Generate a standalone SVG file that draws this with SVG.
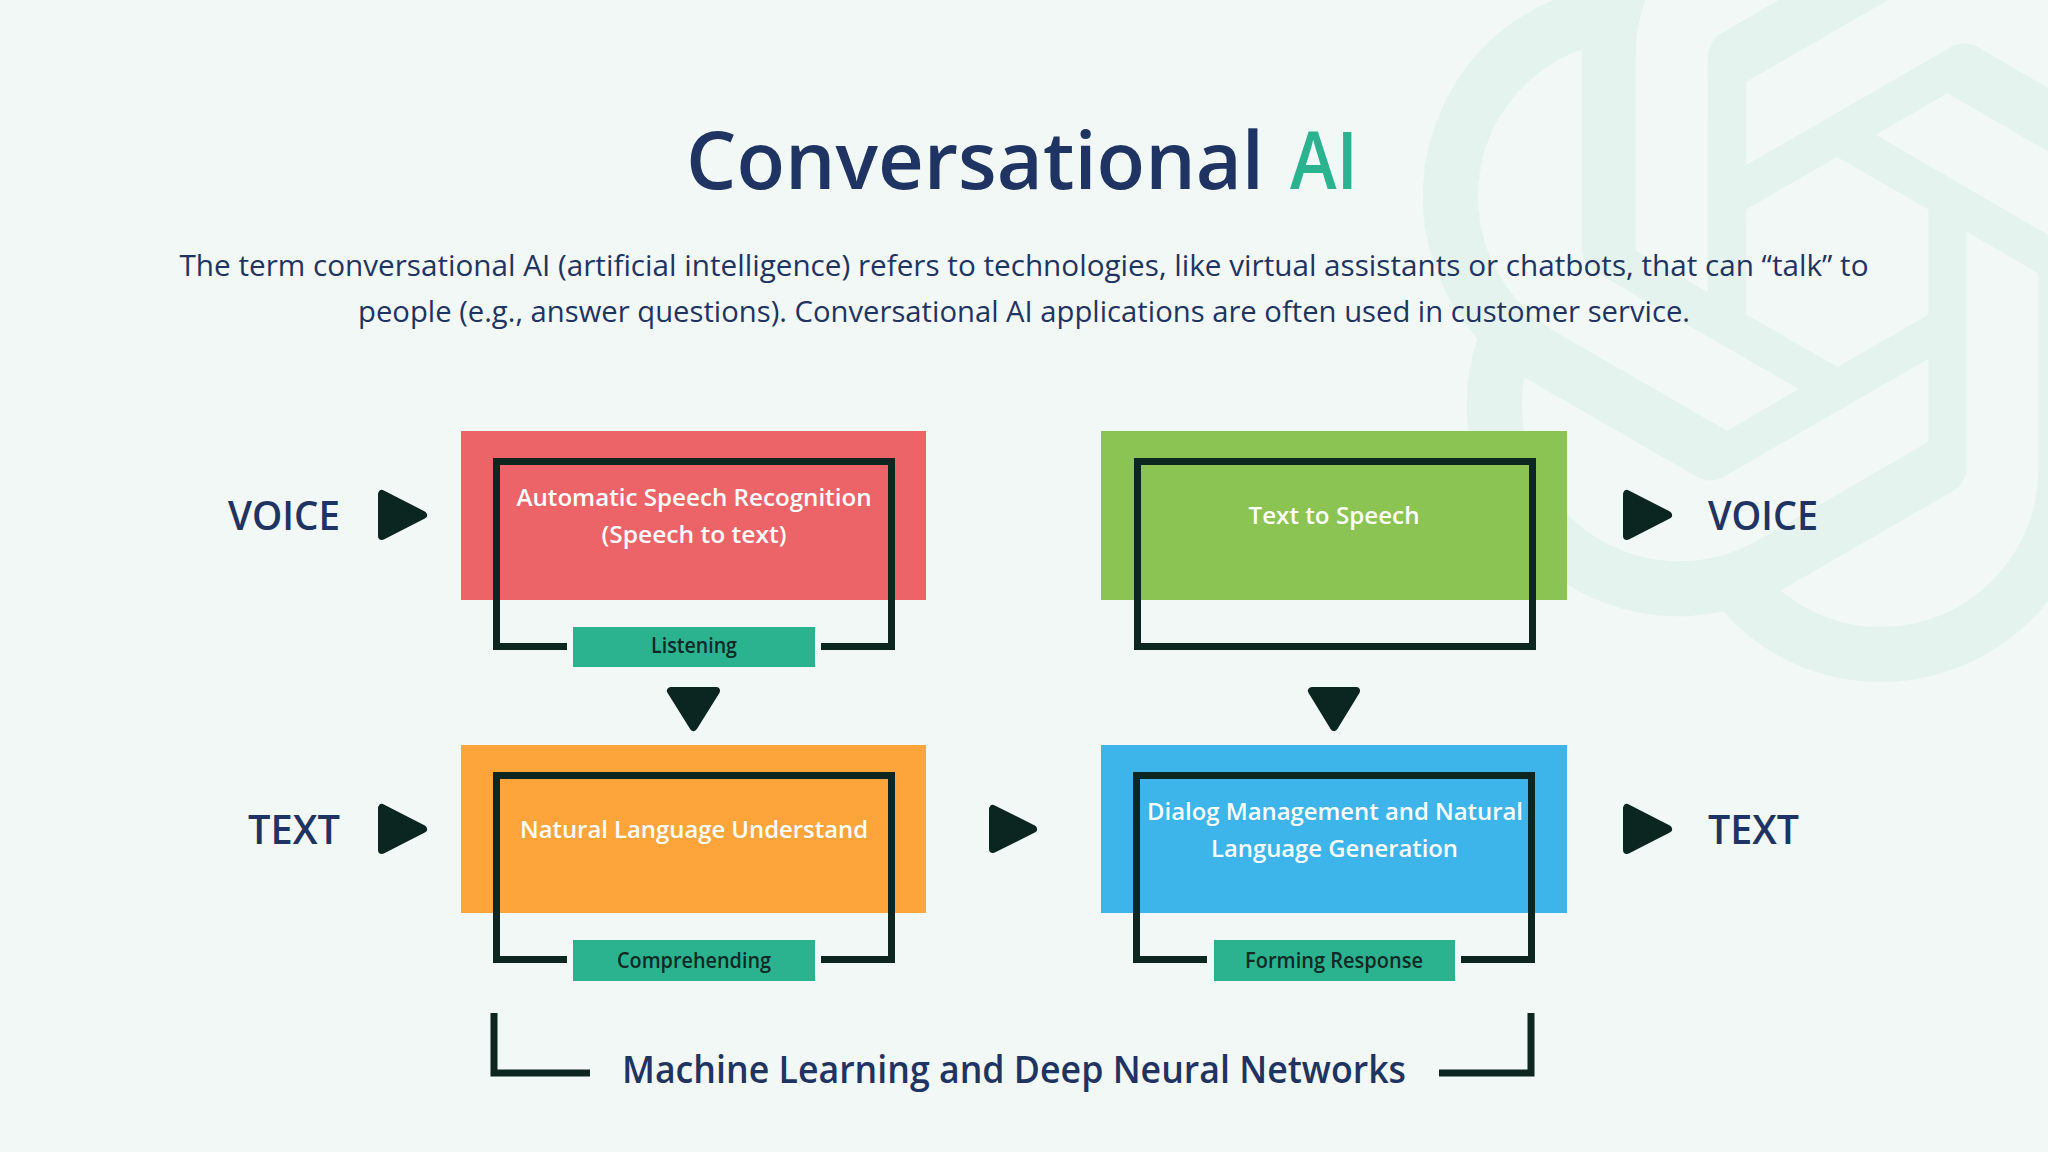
<svg xmlns="http://www.w3.org/2000/svg" width="2048" height="1152" viewBox="0 0 2048 1152">
  <style>
    .t { font-family: "Open Sans", "Noto Sans", "Liberation Sans", sans-serif; }
    .navy { fill: #1f3462; }
    .boxtxt { font-size: 24px; font-weight: 600; fill: #ffffff; text-anchor: middle; }
    .lbl { font-size: 21px; font-weight: 600; fill: #0f2a24; text-anchor: middle; }
    .io { font-size: 39px; font-weight: 600; fill: #1f3462; }
    .frame { fill: none; stroke: #0d2620; stroke-width: 7; stroke-linejoin: miter; }
    .tri { fill: #0b2620; stroke: #0b2620; stroke-width: 8; stroke-linejoin: round; }
    .tag { fill: #2bb38f; }
  </style>

  <rect x="0" y="0" width="2048" height="1152" fill="#f1f8f6"/>

  <!-- faint watermark logo -->
  <g id="watermark" transform="translate(1837,262) scale(35) translate(-12,-12)">
    <path fill="#e4f3ee" d="M22.2819 9.8211a5.9847 5.9847 0 0 0-.5157-4.9108 6.0462 6.0462 0 0 0-6.5098-2.9A6.0651 6.0651 0 0 0 4.9807 4.1818a5.9847 5.9847 0 0 0-3.9977 2.9 6.0462 6.0462 0 0 0 .7427 7.0966 5.98 5.98 0 0 0 .511 4.9107 6.051 6.051 0 0 0 6.5146 2.9001A5.9847 5.9847 0 0 0 13.2599 24a6.0557 6.0557 0 0 0 5.7718-4.2058 5.9894 5.9894 0 0 0 3.9977-2.9001 6.0557 6.0557 0 0 0-.7475-7.0729zm-9.022 12.6081a4.4755 4.4755 0 0 1-2.8764-1.0408l.1419-.0804 4.7783-2.7582a.7948.7948 0 0 0 .3927-.6813v-6.7369l2.02 1.1686a.071.071 0 0 1 .038.052v5.5826a4.504 4.504 0 0 1-4.4945 4.4944zm-9.6607-4.1254a4.4708 4.4708 0 0 1-.5346-3.0137l.142.0852 4.783 2.7582a.7712.7712 0 0 0 .7806 0l5.8428-3.3685v2.3324a.0804.0804 0 0 1-.0332.0615L9.74 19.9502a4.4992 4.4992 0 0 1-6.1408-1.6464zM2.3408 7.8956a4.485 4.485 0 0 1 2.3655-1.9728V11.6a.7664.7664 0 0 0 .3879.6765l5.8144 3.3543-2.0201 1.1685a.0757.0757 0 0 1-.071 0l-4.8303-2.7865A4.504 4.504 0 0 1 2.3408 7.872zm16.5963 3.8558L13.1038 8.364 15.1192 7.2a.0757.0757 0 0 1 .071 0l4.8303 2.7913a4.4944 4.4944 0 0 1-.6765 8.1042v-5.6772a.79.79 0 0 0-.407-.667zm2.0107-3.0231l-.142-.0852-4.7735-2.7818a.7759.7759 0 0 0-.7854 0L9.409 9.2297V6.8974a.0662.0662 0 0 1 .0284-.0615l4.8303-2.7866a4.4992 4.4992 0 0 1 6.6802 4.66zM8.3065 12.863l-2.02-1.1638a.0804.0804 0 0 1-.038-.0567V6.0742a4.4992 4.4992 0 0 1 7.3757-3.4537l-.142.0805L8.704 5.459a.7948.7948 0 0 0-.3927.6813zm1.0976-2.3654l2.602-1.4998 2.6069 1.4998v2.9994l-2.5974 1.4997-2.6067-1.4997Z"/>
  </g>

  <!-- title -->
  <g id="title" class="t" font-size="79" font-weight="600">
    <text x="686" y="189" class="navy" textLength="578" lengthAdjust="spacingAndGlyphs">Conversational</text>
    <text x="1290" y="189" fill="#2bb38f" textLength="68" lengthAdjust="spacingAndGlyphs">AI</text>
  </g>
  <g id="description" class="t" font-size="29" fill="#1f3462" text-anchor="middle">
    <text x="1024" y="276" textLength="1689" lengthAdjust="spacingAndGlyphs">The term conversational AI (artificial intelligence) refers to technologies, like virtual assistants or chatbots, that can “talk” to</text>
    <text x="1024" y="322" textLength="1332" lengthAdjust="spacingAndGlyphs">people (e.g., answer questions). Conversational AI applications are often used in customer service.</text>
  </g>

  <!-- side labels -->
  <g id="voice-in" class="t"><text class="io" x="340" y="530" text-anchor="end" textLength="112" lengthAdjust="spacingAndGlyphs">VOICE</text></g>
  <g id="text-in" class="t"><text class="io" x="340" y="844" text-anchor="end" textLength="92" lengthAdjust="spacingAndGlyphs">TEXT</text></g>
  <g id="voice-out" class="t"><text class="io" x="1708" y="530" textLength="110" lengthAdjust="spacingAndGlyphs">VOICE</text></g>
  <g id="text-out" class="t"><text class="io" x="1708" y="844" textLength="91" lengthAdjust="spacingAndGlyphs">TEXT</text></g>

  <!-- ASR node -->
  <g id="asr" class="t">
    <rect x="461" y="431" width="465" height="169" fill="#ec6468"/>
    <path class="frame" d="M567,646.5 H496.5 V461.5 H891.5 V646.5 H821"/>
    <text class="boxtxt" x="694" y="506" textLength="355" lengthAdjust="spacingAndGlyphs">Automatic Speech Recognition</text>
    <text class="boxtxt" x="694" y="543" textLength="185" lengthAdjust="spacingAndGlyphs">(Speech to text)</text>
    <rect class="tag" x="573" y="627" width="242" height="40"/>
    <text class="lbl" x="694" y="653" textLength="86" lengthAdjust="spacingAndGlyphs">Listening</text>
  </g>

  <!-- TTS node -->
  <g id="tts" class="t">
    <rect x="1101" y="431" width="466" height="169" fill="#8bc452"/>
    <rect class="frame" x="1137.5" y="461.5" width="395" height="185"/>
    <text class="boxtxt" x="1334" y="524" textLength="171" lengthAdjust="spacingAndGlyphs">Text to Speech</text>
  </g>

  <!-- NLU node -->
  <g id="nlu" class="t">
    <rect x="461" y="745" width="465" height="168" fill="#fda53b"/>
    <path class="frame" d="M567,959.5 H496.5 V775.5 H891.5 V959.5 H821"/>
    <text class="boxtxt" x="694" y="838" textLength="348" lengthAdjust="spacingAndGlyphs">Natural Language Understand</text>
    <rect class="tag" x="573" y="940" width="242" height="41"/>
    <text class="lbl" x="694" y="968" textLength="154" lengthAdjust="spacingAndGlyphs">Comprehending</text>
  </g>

  <!-- Dialog node -->
  <g id="dialog" class="t">
    <rect x="1101" y="745" width="466" height="168" fill="#3db4ea"/>
    <path class="frame" d="M1207,959.5 H1136.5 V775.5 H1531.5 V959.5 H1461"/>
    <text class="boxtxt" x="1335" y="820" textLength="376" lengthAdjust="spacingAndGlyphs">Dialog Management and Natural</text>
    <text class="boxtxt" x="1334.5" y="857" textLength="247" lengthAdjust="spacingAndGlyphs">Language Generation</text>
    <rect class="tag" x="1214" y="940" width="241" height="41"/>
    <text class="lbl" x="1334" y="968" textLength="178" lengthAdjust="spacingAndGlyphs">Forming Response</text>
  </g>

  <!-- bottom foundation -->
  <g id="foundation" class="t">
    <path class="frame" d="M494,1013 V1073 H590"/>
    <path class="frame" d="M1439,1073 H1531 V1013"/>
    <text x="1014" y="1083" font-size="38" font-weight="600" fill="#1f3462" text-anchor="middle" textLength="784" lengthAdjust="spacingAndGlyphs">Machine Learning and Deep Neural Networks</text>
  </g>

  <!-- connectors (arrowheads) -->
  <g id="connectors">
    <polygon class="tri" points="382,494 382,536 423,515"/>
    <polygon class="tri" points="382,808 382,850 423,829"/>
    <polygon class="tri" points="993,809 993,849 1033,829"/>
    <polygon class="tri" points="1627,494 1627,536 1668,515"/>
    <polygon class="tri" points="1627,808 1627,850 1668,829"/>
    <polygon class="tri" points="671,691 716,691 693.5,727"/>
    <polygon class="tri" points="1312,691 1356,691 1334,727"/>
  </g>
</svg>
